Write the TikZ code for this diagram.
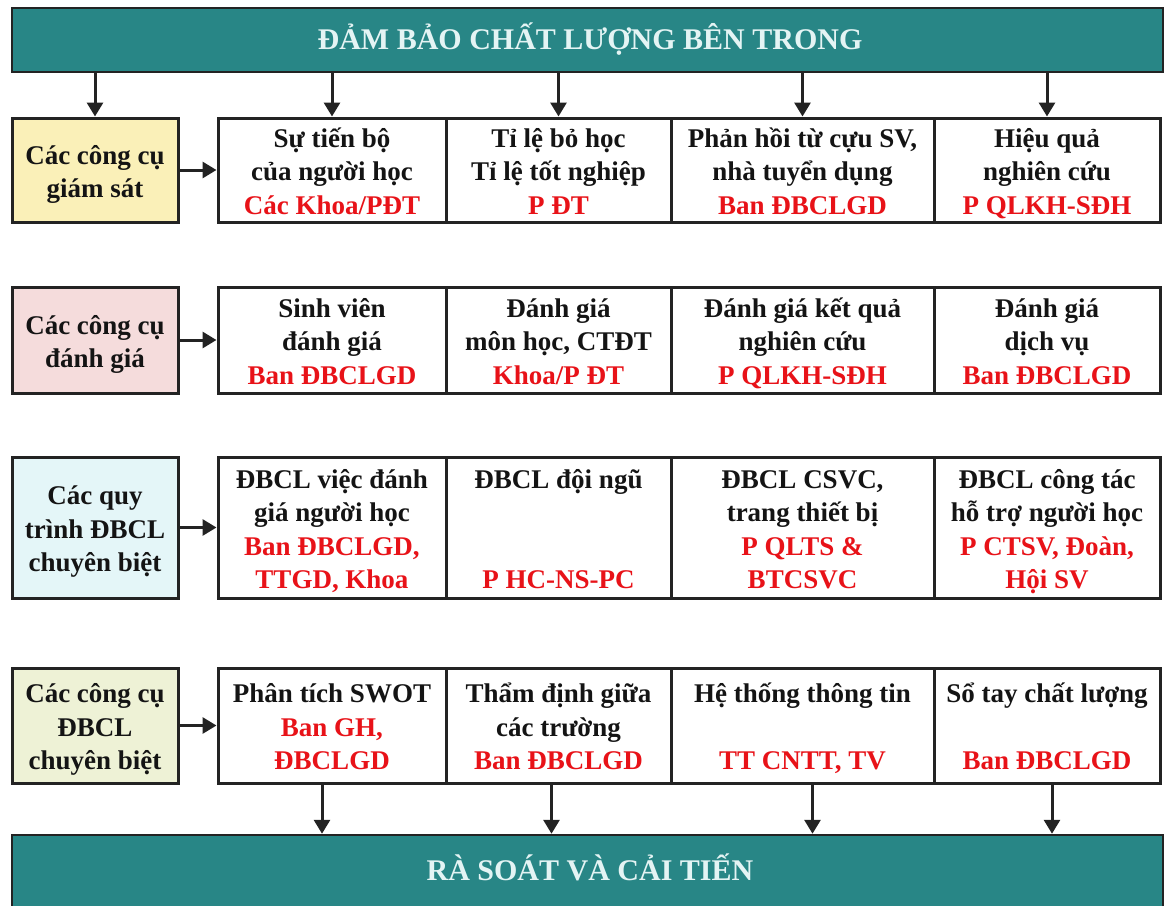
\documentclass[tikz,border=0pt]{standalone}
\usepackage{fontspec}
\setmainfont{Liberation Serif}
\usetikzlibrary{arrows.meta}
\definecolor{tealbar}{RGB}{40,134,134}
\definecolor{hdr}{RGB}{228,244,244}
\definecolor{redt}{RGB}{232,18,24}
\definecolor{lin}{RGB}{35,35,35}
\definecolor{txt}{RGB}{20,20,20}
\definecolor{fa}{RGB}{250,240,184}
\definecolor{fb}{RGB}{245,220,220}
\definecolor{fc}{RGB}{228,246,248}
\definecolor{fd}{RGB}{238,242,214}
\newcommand\rd[1]{\textcolor{redt}{#1}}
\newcommand\sq{\rule[-6pt]{0pt}{33.5pt}}
\tikzset{
  bx/.style={draw=lin, line width=3pt, inner sep=0pt, align=center, text=txt,
    font=\bfseries\fontsize{27}{33.5}\selectfont},
  lbox/.style={bx, minimum width=166pt},
  cell/.style={bx, fill=white},
  bar/.style={draw=lin, line width=2.5pt, fill=tealbar, minimum width=1151pt, inner sep=0pt},
  bartext/.style={text=hdr, font=\bfseries\fontsize{30}{34}\selectfont, inner sep=0pt},
  arr/.style={draw=lin, line width=3pt, -{Triangle[length=14pt,width=16pt]}}
}
\begin{document}
\begin{tikzpicture}[x=1pt,y=-1pt]
\clip (0,0) rectangle (1167,905);
\fill[white] (0,0) rectangle (1167,905);
% bars
\node[bar, minimum height=64pt] (top) at (587.5,40) {};
\node[bartext] (toptxt) at (590,39) {ĐẢM BẢO CHẤT LƯỢNG BÊN TRONG};
\node[bar, minimum height=100pt] (bot) at (587.5,885) {};
\node[bartext] (bottxt) at (590,867) {RÀ SOÁT VÀ CẢI TIẾN};
% row 1
\node[lbox, fill=fa, minimum height=104pt] (L1) at (95,170) {\sq Các công cụ\\\sq giám sát};
\node[cell, minimum width=228pt, minimum height=104pt] (c11) at (332,170) {\sq Sự tiến bộ\\\sq của người học\\\sq\rd{Các Khoa/PĐT}};
\node[cell, minimum width=225pt, minimum height=104pt] (c12) at (558.5,170) {\sq Tỉ lệ bỏ học\\\sq Tỉ lệ tốt nghiệp\\\sq\rd{P ĐT}};
\node[cell, minimum width=263pt, minimum height=104pt] (c13) at (802.5,170) {\sq Phản hồi từ cựu SV,\\\sq nhà tuyển dụng\\\sq\rd{Ban ĐBCLGD}};
\node[cell, minimum width=226pt, minimum height=104pt] (c14) at (1047,170) {\sq Hiệu quả\\\sq nghiên cứu\\\sq\rd{P QLKH-SĐH}};
% row 2
\node[lbox, fill=fb, minimum height=106pt] (L2) at (95,340) {\sq Các công cụ\\\sq đánh giá};
\node[cell, minimum width=228pt, minimum height=106pt] (c21) at (332,340) {\sq Sinh viên\\\sq đánh giá\\\sq\rd{Ban ĐBCLGD}};
\node[cell, minimum width=225pt, minimum height=106pt] (c22) at (558.5,340) {\sq Đánh giá\\\sq môn học, CTĐT\\\sq\rd{Khoa/P ĐT}};
\node[cell, minimum width=263pt, minimum height=106pt] (c23) at (802.5,340) {\sq Đánh giá kết quả\\\sq nghiên cứu\\\sq\rd{P QLKH-SĐH}};
\node[cell, minimum width=226pt, minimum height=106pt] (c24) at (1047,340) {\sq Đánh giá\\\sq dịch vụ\\\sq\rd{Ban ĐBCLGD}};
% row 3
\node[lbox, fill=fc, minimum height=141pt] (L3) at (95,527.5) {\sq Các quy\\\sq trình ĐBCL\\\sq chuyên biệt};
\node[cell, minimum width=228pt, minimum height=141pt] (c31) at (332,527.5) {\sq ĐBCL việc đánh\\\sq giá người học\\\sq\rd{Ban ĐBCLGD,}\\\sq\rd{TTGD, Khoa}};
\node[cell, minimum width=225pt, minimum height=141pt] (c32) at (558.5,527.5) {\sq ĐBCL đội ngũ\\\sq\\\sq\\\sq\rd{P HC-NS-PC}};
\node[cell, minimum width=263pt, minimum height=141pt] (c33) at (802.5,527.5) {\sq ĐBCL CSVC,\\\sq trang thiết bị\\\sq\rd{P QLTS \&}\\\sq\rd{BTCSVC}};
\node[cell, minimum width=226pt, minimum height=141pt] (c34) at (1047,527.5) {\sq ĐBCL công tác\\\sq hỗ trợ người học\\\sq\rd{P CTSV, Đoàn,}\\\sq\rd{Hội SV}};
% row 4
\node[lbox, fill=fd, minimum height=115pt] (L4) at (95,725.5) {\sq Các công cụ\\\sq ĐBCL\\\sq chuyên biệt};
\node[cell, minimum width=228pt, minimum height=115pt] (c41) at (332,725.5) {\sq Phân tích SWOT\\\sq\rd{Ban GH,}\\\sq\rd{ĐBCLGD}};
\node[cell, minimum width=225pt, minimum height=115pt] (c42) at (558.5,725.5) {\sq Thẩm định giữa\\\sq các trường\\\sq\rd{Ban ĐBCLGD}};
\node[cell, minimum width=263pt, minimum height=115pt] (c43) at (802.5,725.5) {\sq Hệ thống thông tin\\\sq\\\sq\rd{TT CNTT, TV}};
\node[cell, minimum width=226pt, minimum height=115pt] (c44) at (1047,725.5) {\sq Sổ tay chất lượng\\\sq\\\sq\rd{Ban ĐBCLGD}};
% arrows from top bar
\foreach \n in {L1,c11,c12,c13,c14}
  \draw[arr] (top.south -| \n.north) -- (\n.north);
% horizontal arrows
\foreach \r in {1,2,3,4}
  \draw[arr] (L\r.east) -- (c\r1.west);
% arrows to bottom bar
\draw[arr] ([xshift=-10pt]c41.south) -- ([xshift=-10pt]c41.south |- bot.north);
\draw[arr] ([xshift=-7pt]c42.south) -- ([xshift=-7pt]c42.south |- bot.north);
\draw[arr] ([xshift=10pt]c43.south) -- ([xshift=10pt]c43.south |- bot.north);
\draw[arr] ([xshift=5pt]c44.south) -- ([xshift=5pt]c44.south |- bot.north);
\end{tikzpicture}
\end{document}
